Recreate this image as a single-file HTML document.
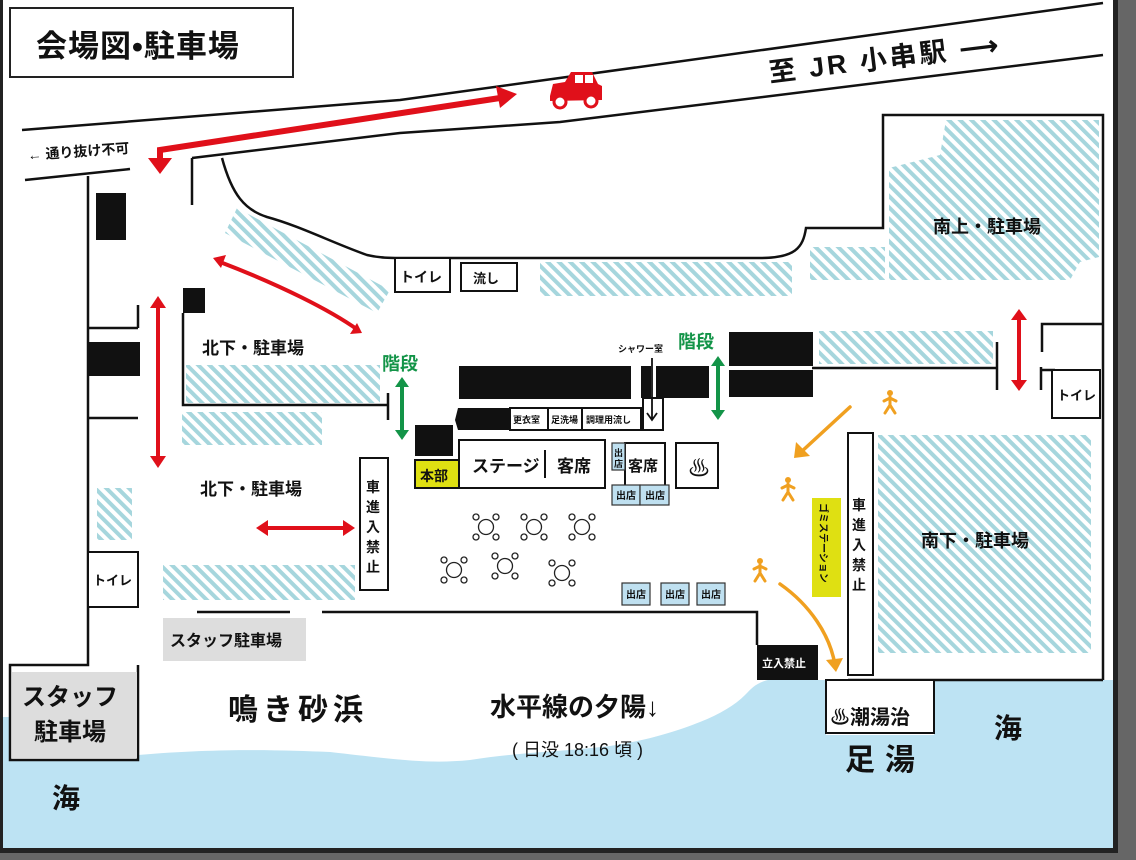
<!DOCTYPE html>
<html><head><meta charset="utf-8"><style>
html,body{margin:0;padding:0;background:#fff}
svg{display:block}
text{font-family:"Liberation Sans","Noto Sans CJK JP",sans-serif;font-weight:bold;fill:#111}
</style></head><body>
<svg width="1136" height="860" viewBox="0 0 1136 860" xmlns="http://www.w3.org/2000/svg">
<defs>
<pattern id="h" patternUnits="userSpaceOnUse" width="8" height="8" patternTransform="rotate(-45)">
<rect width="8" height="8" fill="#fff"/><rect width="4" height="8" fill="#a6d6dd"/>
</pattern>
<g id="tbl" fill="none" stroke="#222" stroke-width="1.3">
<circle r="7.5"/><circle cx="-10" cy="-10" r="3"/><circle cx="10" cy="-10" r="3"/><circle cx="-10" cy="10" r="3"/><circle cx="10" cy="10" r="3"/>
</g>
<g id="per" fill="#f0a020" stroke="#f0a020">
<circle cx="0" cy="-9" r="3" stroke="none"/>
<path d="M0,-5 L0,3 M0,3 L-5,11 M0,3 L5,11 M-6,-1 L0,-4 L6,-1" stroke-width="3" fill="none" stroke-linecap="round"/>
</g>
</defs>
<rect width="1136" height="860" fill="#fff"/>
<path d="M0,717 L10,717 L10,760 L138,760 L138,755 C220,748 280,750 330,752 C400,760 430,764 470,760 C520,752 560,752 610,746 C650,740 680,730 700,722 C720,714 735,705 745,695 C752,688 756,683 768,680 L826,680 L826,735 L934,735 L934,680 L1113,680 L1113,850 L0,850 Z" fill="#bde3f3"/>
<rect x="1113" y="0" width="5" height="852" fill="#222"/>
<rect x="1118" y="0" width="18" height="860" fill="#666"/>
<rect x="0" y="848" width="1118" height="5" fill="#222"/>
<rect x="0" y="853" width="1136" height="7" fill="#666"/>
<rect x="0" y="0" width="3" height="850" fill="#222"/>

<rect x="10" y="8" width="283" height="69" fill="#fff" stroke="#222" stroke-width="2"/>
<text x="36" y="57" font-size="31" letter-spacing="1">会場図•駐車場</text>

<g stroke="#111" stroke-width="2.5" fill="none">
<path d="M22,130 L400,100 L1103,3"/>
<path d="M25,180 L130,169"/>
<path d="M192,158 L400,133 L560,122 L1103,55"/>
<path d="M192,158 L192,205"/>
<path d="M222,158 C232,195 245,210 267,217 C300,226 333,243 367,255 C380,258 390,258 400,258 L760,258 C795,258 803,248 806,228 L883,228 L883,115 L1103,115 L1103,680"/>
<path d="M88,176 L88,665 L10,665 L10,760 L138,760 L138,665"/>
<path d="M88,328 L138,328 M138,305 L138,328 M88,418 L138,418"/>
<path d="M183,313 L183,405 L388,405 M388,393 L388,420"/>
<path d="M197,612 L290,612 M322,612 L757,612 L757,645"/>
<path d="M812,368 L997,368 M997,342 L997,390"/>
<path d="M1042,352 L1042,324 L1103,324 M1041,367 L1041,390 M1041,370 L1055,370"/>
<path d="M848,680 L1103,680"/>
</g>
<text x="770" y="82" font-size="27" transform="rotate(-7 770 82)" letter-spacing="3">至 JR 小串駅 ⟶</text>
<text x="28" y="160" font-size="14" transform="rotate(-4 28 160)">← 通り抜け不可</text>

<g fill="#e0101a">
<path d="M550,96 L553,84 L565,82 L571,72 L592,72 L598,84 L602,86 L602,100 L550,101 Z"/>
<circle cx="560" cy="102" r="6" fill="#fff" stroke="#e0101a" stroke-width="3"/>
<circle cx="591" cy="101" r="6" fill="#fff" stroke="#e0101a" stroke-width="3"/>
<rect x="575" y="75" width="8" height="8" fill="#fff"/><rect x="585" y="75" width="8" height="8" fill="#fff"/>
</g>

<g fill="url(#h)">
<polygon points="237,208 390,290 377,313 225,233"/>
<polygon points="889,168 940,155 946,120 1099,120 1099,257 1080,262 1070,280 889,280"/>
<rect x="810" y="247" width="75" height="33"/>
<rect x="540" y="262" width="252" height="34"/>
<rect x="186" y="365" width="194" height="38"/>
<rect x="182" y="412" width="140" height="33"/>
<rect x="97" y="488" width="35" height="52"/>
<rect x="163" y="565" width="192" height="35"/>
<rect x="819" y="331" width="174" height="33"/>
<rect x="878" y="435" width="213" height="218"/>
</g>

<g fill="#111">
<rect x="96" y="193" width="30" height="47"/>
<rect x="88" y="342" width="52" height="34"/>
<rect x="183" y="288" width="22" height="25"/>
<rect x="459" y="366" width="172" height="33"/>
<rect x="641" y="366" width="10" height="32"/>
<rect x="656" y="366" width="53" height="32"/>
<polygon points="458,408 510,408 510,430 458,430 455,420"/>
<rect x="415" y="425" width="38" height="31"/>
<rect x="729" y="332" width="84" height="34"/>
<rect x="729" y="370" width="84" height="27"/>
<rect x="757" y="645" width="61" height="35"/>
</g>
<text x="762" y="667" font-size="11" style="fill:#fff">立入禁止</text>

<g fill="#fff" stroke="#111" stroke-width="2">
<rect x="395" y="258" width="55" height="34"/>
<rect x="461" y="263" width="56" height="28"/>
<rect x="1052" y="370" width="48" height="48"/>
<rect x="88" y="552" width="50" height="55"/>
<rect x="360" y="458" width="28" height="132"/>
<rect x="848" y="433" width="25" height="242"/>
<rect x="510" y="408" width="38" height="22"/>
<rect x="548" y="408" width="34" height="22"/>
<rect x="582" y="408" width="59" height="22"/>
<rect x="643" y="398" width="20" height="32"/>
<rect x="459" y="440" width="146" height="48"/>
<rect x="625" y="443" width="40" height="44"/>
<rect x="676" y="443" width="42" height="45"/>
<rect x="826" y="680" width="108" height="53"/>
</g>
<text x="400" y="282" font-size="14">トイレ</text>
<text x="473" y="283" font-size="13">流し</text>
<text x="1057" y="400" font-size="13">トイレ</text>
<text x="93" y="585" font-size="13">トイレ</text>
<text x="513" y="423" font-size="9">更衣室</text>
<text x="551" y="423" font-size="9">足洗場</text>
<text x="586" y="423" font-size="9">調理用流し</text>
<text x="618" y="352" font-size="9">シャワー室</text>
<path d="M652,358 L652,420 M647,413 L652,420 L657,413" stroke="#111" stroke-width="1.8" fill="none"/>
<text x="472" y="472" font-size="17">ステージ</text>
<path d="M545,450 L545,478" stroke="#111" stroke-width="2"/>
<text x="557" y="472" font-size="17">客席</text>
<text x="628" y="471" font-size="15">客席</text>
<text x="688" y="476" font-size="22" style="font-weight:normal">♨</text>
<rect x="163" y="618" width="143" height="43" fill="#ddd"/>
<rect x="12" y="672" width="125" height="86" fill="#ddd"/>
<text x="170" y="646" font-size="16">スタッフ駐車場</text>
<text x="22" y="705" font-size="24">スタッフ</text>
<text x="34" y="740" font-size="24">駐車場</text>

<rect x="415" y="460" width="44" height="28" fill="#dfe012" stroke="#111" stroke-width="2"/>
<text x="420" y="481" font-size="14">本部</text>
<rect x="812" y="498" width="29" height="99" fill="#dfe012"/>
<text x="820" y="503" font-size="10" transform="rotate(90 820 503)">ゴミステーション</text>

<g fill="#bfe0f0" stroke="#333" stroke-width="1.2">
<rect x="612" y="443" width="13" height="27"/>
<rect x="612" y="485" width="28" height="20"/>
<rect x="640" y="485" width="29" height="20"/>
<rect x="622" y="583" width="28" height="22"/>
<rect x="661" y="583" width="28" height="22"/>
<rect x="697" y="583" width="28" height="22"/>
</g>
<text x="614" y="456" font-size="9">出</text><text x="614" y="467" font-size="9">店</text>
<g font-size="10"><text x="616" y="499">出店</text><text x="645" y="499">出店</text>
<text x="626" y="598">出店</text><text x="665" y="598">出店</text><text x="701" y="598">出店</text></g>

<use href="#tbl" x="486" y="527"/><use href="#tbl" x="534" y="527"/><use href="#tbl" x="582" y="527"/>
<use href="#tbl" x="454" y="570"/><use href="#tbl" x="505" y="566"/><use href="#tbl" x="562" y="573"/>

<g font-size="14">
<text x="366" y="492">車</text><text x="366" y="512">進</text><text x="366" y="532">入</text><text x="366" y="552">禁</text><text x="366" y="572">止</text>
<text x="852" y="510">車</text><text x="852" y="530">進</text><text x="852" y="550">入</text><text x="852" y="570">禁</text><text x="852" y="590">止</text>
</g>

<text x="202" y="354" font-size="17">北下・駐車場</text>
<text x="200" y="495" font-size="17">北下・駐車場</text>
<text x="933" y="233" font-size="18">南上・駐車場</text>
<text x="921" y="547" font-size="18">南下・駐車場</text>

<g stroke="#e0101a" fill="none" stroke-width="4" stroke-linecap="round">
<path d="M160,166 L160,150 L500,98" stroke-width="6"/>
<path d="M158,305 L158,459"/>
<path d="M220,262 C280,285 330,310 358,330"/>
<path d="M265,528 L346,528"/>
<path d="M1019,318 L1019,382"/>
</g>
<g fill="#e0101a">
<polygon points="148,158 172,158 160,174"/>
<polygon points="496,86 517,94 500,108"/>
<polygon points="150,308 158,296 166,308"/><polygon points="150,456 158,468 166,456"/>
<polygon points="213,258 226,255 221,268"/><polygon points="362,333 350,334 357,323"/>
<polygon points="268,520 256,528 268,536"/><polygon points="343,520 355,528 343,536"/>
<polygon points="1011,320 1019,309 1027,320"/><polygon points="1011,380 1019,391 1027,380"/>
</g>

<g stroke="#139448" stroke-width="4" fill="none">
<path d="M402,385 L402,432"/><path d="M718,364 L718,412"/>
</g>
<g fill="#139448">
<polygon points="395,387 402,377 409,387"/><polygon points="395,430 402,440 409,430"/>
<polygon points="711,366 718,356 725,366"/><polygon points="711,410 718,420 725,410"/>
</g>
<text x="382" y="370" font-size="18" style="fill:#139448">階段</text>
<text x="678" y="348" font-size="18" style="fill:#139448">階段</text>

<g stroke="#f0a020" stroke-width="3.5" fill="none" stroke-linecap="round">
<path d="M850,407 L800,453"/>
<path d="M780,584 C810,605 830,635 835,665"/>
</g>
<g fill="#f0a020">
<polygon points="796,442 794,458 810,456"/>
<polygon points="826,660 836,672 843,658"/>
</g>
<use href="#per" x="890" y="402"/>
<use href="#per" x="788" y="489"/>
<use href="#per" x="760" y="570"/>

<text x="830" y="724" font-size="20">♨潮湯治</text>
<text x="228" y="720" font-size="30" letter-spacing="5">鳴き砂浜</text>
<text x="490" y="716" font-size="26">水平線の夕陽↓</text>
<text x="512" y="756" font-size="18" style="font-weight:normal">( 日没 18:16 頃 )</text>
<text x="845" y="770" font-size="30" letter-spacing="10">足湯</text>
<text x="994" y="738" font-size="28">海</text>
<text x="52" y="808" font-size="28">海</text>
</svg>
</body></html>
